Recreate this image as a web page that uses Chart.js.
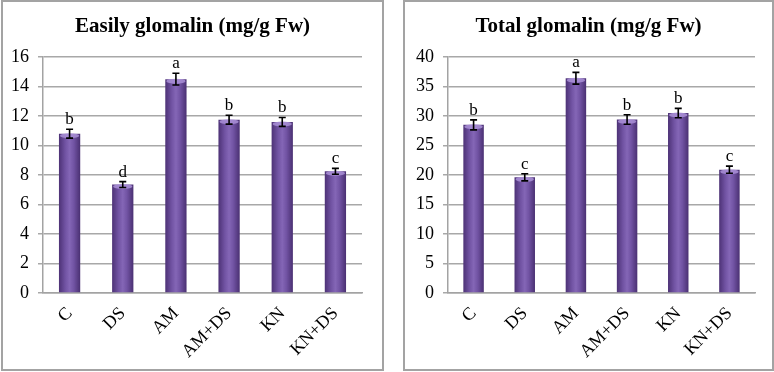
<!DOCTYPE html>
<html>
<head>
<meta charset="utf-8">
<script src="https://cdn.jsdelivr.net/npm/chart.js@4.4.1/dist/chart.umd.min.js"></script>
<style>
  body { margin: 0; background: #fff; width: 774px; height: 372px; position: relative; overflow: hidden; }
  .panel { position: absolute; top: 0; height: 371px; border: 2px solid #a3a3a3; box-sizing: border-box; background: #fff; }
  .panel canvas { display: block; }
</style>
</head>
<body>
<div class="panel" style="left:1px; width:383px;"><canvas id="easily" width="379" height="367"></canvas></div>
<div class="panel" style="left:403px; width:371px;"><canvas id="total" width="367" height="367"></canvas></div>

<script>
const categories = ['C', 'DS', 'AM', 'AM+DS', 'KN', 'KN+DS'];

// Easily extractable glomalin
const easilyValues = [10.8, 7.35, 14.5, 11.75, 11.6, 8.25];
const easilyErrors = [0.3, 0.2, 0.4, 0.3, 0.3, 0.2];
const easilyLetters = ['b', 'd', 'a', 'b', 'b', 'c'];
const easilyTicks = [0, 2, 4, 6, 8, 10, 12, 14, 16];

// Total glomalin
const totalValues = [28.5, 19.6, 36.4, 29.4, 30.5, 20.9];
const totalErrors = [0.85, 0.6, 1.0, 0.8, 0.8, 0.6];
const totalLetters = ['b', 'c', 'a', 'b', 'b', 'c'];
const totalTicks = [0, 5, 10, 15, 20, 25, 30, 35, 40];

const SERIF = '"Liberation Serif", "Times New Roman", serif';
const BAR_PCT = 0.4;

// draws title, error bars, significance letters and the light top of each bar
const extras = {
  id: 'extras',
  afterDatasetsDraw(chart, args, opts) {
    const ctx = chart.ctx;
    const y = chart.scales.y;
    const values = chart.data.datasets[0].data;
    chart.getDatasetMeta(0).data.forEach((bar, i) => {
      const w = bar.width;
      // lighter top of the "cylinder"
      ctx.save();
      ctx.fillStyle = 'rgba(170, 145, 215, 0.85)';
      ctx.beginPath();
      ctx.ellipse(bar.x, bar.y + 2, w / 2 - 1, 2.5, 0, 0, Math.PI * 2);
      ctx.fill();
      ctx.restore();

      const top = y.getPixelForValue(values[i] + opts.errors[i]);
      const bot = y.getPixelForValue(values[i] - opts.errors[i]);
      ctx.save();
      ctx.strokeStyle = '#000';
      ctx.lineWidth = 1.6;
      ctx.beginPath();
      ctx.moveTo(bar.x, top); ctx.lineTo(bar.x, bot);
      ctx.moveTo(bar.x - 3.5, top); ctx.lineTo(bar.x + 3.5, top);
      ctx.moveTo(bar.x - 3.5, bot); ctx.lineTo(bar.x + 3.5, bot);
      ctx.stroke();
      ctx.fillStyle = '#000';
      ctx.font = '17px ' + SERIF;
      ctx.textAlign = 'center';
      ctx.textBaseline = 'alphabetic';
      ctx.fillText(opts.letters[i], bar.x, top - 5);
      ctx.restore();
    });
  },
  afterDraw(chart, args, opts) {
    const ctx = chart.ctx;
    ctx.save();
    ctx.fillStyle = '#000';
    ctx.font = 'bold 21px ' + SERIF;
    ctx.textAlign = 'center';
    ctx.textBaseline = 'middle';
    ctx.fillText(opts.title, chart.width / 2, 25);
    ctx.restore();
  }
};

function barGradient(c) {
  const chart = c.chart;
  const xs = chart.scales.x;
  if (!chart.chartArea || !xs) return '#6e4f9e';
  const cx = xs.getPixelForValue(c.dataIndex);
  const w = xs.width / categories.length * BAR_PCT;
  const g = chart.ctx.createLinearGradient(cx - w / 2, 0, cx + w / 2, 0);
  g.addColorStop(0, '#4d3276');
  g.addColorStop(0.3, '#7153a3');
  g.addColorStop(0.5, '#8466b6');
  g.addColorStop(0.7, '#7153a3');
  g.addColorStop(1, '#4a3072');
  return g;
}

function makeChart(id, title, values, errors, letters, ticks, yWidth, padRight) {
  const ctx = document.getElementById(id).getContext('2d');
  return new Chart(ctx, {
    type: 'bar',
    data: {
      labels: categories,
      datasets: [{
        data: values,
        backgroundColor: barGradient,
        borderWidth: 0,
        barPercentage: BAR_PCT,
        categoryPercentage: 1
      }]
    },
    options: {
      responsive: false,
      animation: false,
      layout: { padding: { left: 0, right: padRight, top: 55, bottom: 0 } },
      plugins: {
        legend: { display: false },
        tooltip: { enabled: false },
        extras: { title: title, errors: errors, letters: letters }
      },
      scales: {
        x: {
          grid: { display: false },
          border: { display: true, color: '#a3a3a3', width: 1.5 },
          ticks: {
            color: '#000',
            font: { family: SERIF, size: 18 },
            minRotation: 45,
            maxRotation: 45,
            padding: 2
          },
          afterFit(scale) { scale.height = 76; }
        },
        y: {
          min: ticks[0],
          max: ticks[ticks.length - 1],
          afterBuildTicks(scale) { scale.ticks = ticks.map(v => ({ value: v })); },
          grid: { color: '#a8a8a8', lineWidth: 1.5, tickLength: 5, drawTicks: true },
          border: { display: true, color: '#a3a3a3', width: 1.5 },
          ticks: {
            color: '#000',
            font: { family: SERIF, size: 18 },
            padding: 9
          },
          afterFit(scale) { scale.width = yWidth; }
        }
      }
    },
    plugins: [extras]
  });
}

makeChart('easily', 'Easily glomalin (mg/g Fw)', easilyValues, easilyErrors, easilyLetters, easilyTicks, 40, 20);
makeChart('total', 'Total glomalin (mg/g Fw)', totalValues, totalErrors, totalLetters, totalTicks, 43, 17);
</script>
</body>
</html>
